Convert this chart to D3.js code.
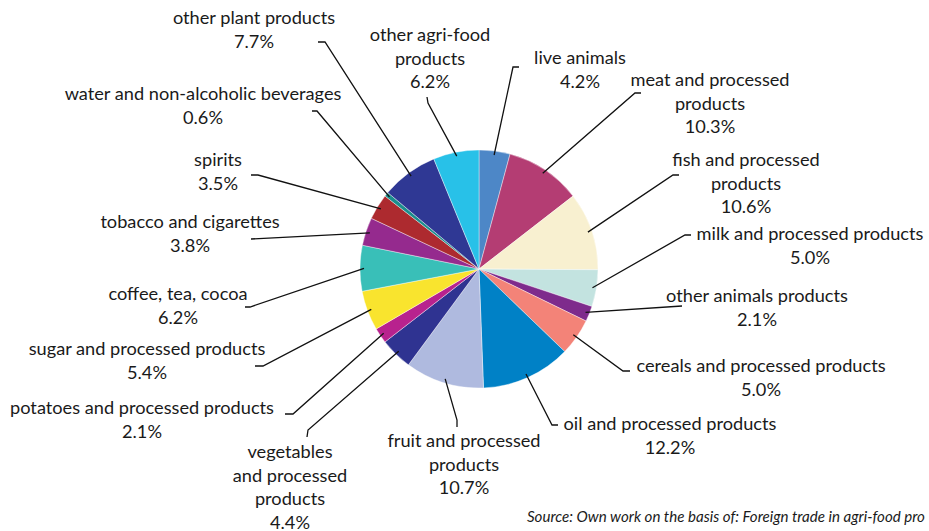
<!DOCTYPE html>
<html>
<head>
<meta charset="utf-8">
<script src="https://cdn.jsdelivr.net/npm/d3@7"></script>
<style>
  html, body { margin: 0; padding: 0; background: #fff; }
  svg { display: block; }
  text { font-family: Lato, "Noto Sans", sans-serif; fill: #1a1a1a; }
</style>
</head>
<body>
<svg id="chart" width="929" height="531"></svg>
<script>
// Structure of agri-food trade, share by product group (%), clockwise from 12 o'clock
const categories = [
  "live animals",
  "meat and processed products",
  "fish and processed products",
  "milk and processed products",
  "other animals products",
  "cereals and processed products",
  "oil and processed products",
  "fruit and processed products",
  "vegetables and processed products",
  "potatoes and processed products",
  "sugar and processed products",
  "coffee, tea, cocoa",
  "tobacco and cigarettes",
  "spirits",
  "water and non-alcoholic beverages",
  "other plant products",
  "other agri-food products"
];
const shares = [4.2, 10.3, 10.6, 5.0, 2.1, 5.0, 12.2, 10.7, 4.4, 2.1, 5.4, 6.2, 3.8, 3.5, 0.6, 7.7, 6.2];
const labelLines = [
  ["live animals"],
  ["meat and processed", "products"],
  ["fish and processed", "products"],
  ["milk and processed products"],
  ["other animals products"],
  ["cereals and processed products"],
  ["oil and processed products"],
  ["fruit and processed", "products"],
  ["vegetables", "and processed", "products"],
  ["potatoes and processed products"],
  ["sugar and processed products"],
  ["coffee, tea, cocoa"],
  ["tobacco and cigarettes"],
  ["spirits"],
  ["water and non-alcoholic beverages"],
  ["other plant products"],
  ["other agri-food", "products"]
];
const colors = [
  "#4d87c7", "#b43d73", "#f8f0d0", "#c3e3e0", "#7e2b8c", "#f38378",
  "#0081c6", "#afbadf", "#2f3391", "#b8228e", "#f9e42e", "#39bfb8",
  "#952a8e", "#ad2a2f", "#1b8e8d", "#2f3894", "#28c1e8"
];
const sourceNote = "Source: Own work on the basis of: Foreign trade in agri-food pro";

// Label placement: text centre x, first baseline y, leader elbow and leader end
const labelLayout = [
  { x: 580, y: 64,  elbow: [513, 67],  end: [519, 67] },
  { x: 710, y: 86,  elbow: [635, 93],  end: [641, 93] },
  { x: 746, y: 166, elbow: [673, 175], end: [679, 175] },
  { x: 810, y: 240, elbow: [685, 235], end: [691, 235] },
  { x: 757, y: 302, elbow: [682, 306], end: [682, 306] },
  { x: 761, y: 372, elbow: [623, 371], end: [630, 371] },
  { x: 670, y: 430, elbow: [552, 425], end: [558, 425] },
  { x: 464, y: 447, elbow: [457, 420], end: [457, 427] },
  { x: 290, y: 458, elbow: [308, 430], end: [307, 437] },
  { x: 142, y: 414, elbow: [293, 414], end: [285, 414] },
  { x: 147, y: 355, elbow: [263, 366], end: [255, 366] },
  { x: 178, y: 300, elbow: [250, 307], end: [245, 307] },
  { x: 190, y: 228, elbow: [251, 239], end: [251, 239] },
  { x: 218, y: 166, elbow: [258, 175], end: [251, 175] },
  { x: 203, y: 100, elbow: [317, 111], end: [312, 111] },
  { x: 254, y: 24,  elbow: [325, 42],  end: [318, 42] },
  { x: 430, y: 41,  elbow: [428, 103], end: [427, 97] }
];

const cx = 479, cy = 269, radius = 119;
const fontSize = 18.2, lineGap = 23.5;

const svg = d3.select("#chart");
const data = categories.map((c, i) => ({ name: c, value: shares[i], color: colors[i], lines: labelLines[i], layout: labelLayout[i] }));

const pie = d3.pie().sort(null).value(d => d.value).startAngle(0).endAngle(2 * Math.PI);
const arcs = pie(data);
const arc = d3.arc().innerRadius(0).outerRadius(radius);

const g = svg.append("g").attr("transform", `translate(${cx},${cy})`);

// Leader lines: start just inside the rim at the slice's mid-angle, so the wedge covers the start
const leaders = svg.append("g").attr("fill", "none").attr("stroke", "#111").attr("stroke-width", 1.3);
arcs.forEach(a => {
  const mid = (a.startAngle + a.endAngle) / 2;
  const r0 = radius - 4;
  const sx = cx + r0 * Math.sin(mid), sy = cy - r0 * Math.cos(mid);
  const L = a.data.layout;
  leaders.append("path")
    .attr("d", d3.line()([[sx, sy], L.elbow, L.end]));
});

g.selectAll("path.slice")
  .data(arcs)
  .join("path")
  .attr("class", "slice")
  .attr("d", arc)
  .attr("fill", d => d.data.color)
  .attr("stroke", "#ffffff")
  .attr("stroke-width", 0.4);

// Category labels with percentage on the last line
const labels = svg.append("g").attr("font-size", fontSize).attr("text-anchor", "middle");
data.forEach(d => {
  const lines = d.lines.concat([d.value.toFixed(1) + "%"]);
  const t = labels.append("text");
  lines.forEach((s, k) => {
    t.append("tspan").attr("x", d.layout.x).attr("y", d.layout.y + k * lineGap).text(s);
  });
});

svg.append("text")
  .attr("x", 527).attr("y", 522)
  .attr("font-size", 15.1)
  .attr("font-style", "italic")
  .text(sourceNote);
</script>
</body>
</html>
